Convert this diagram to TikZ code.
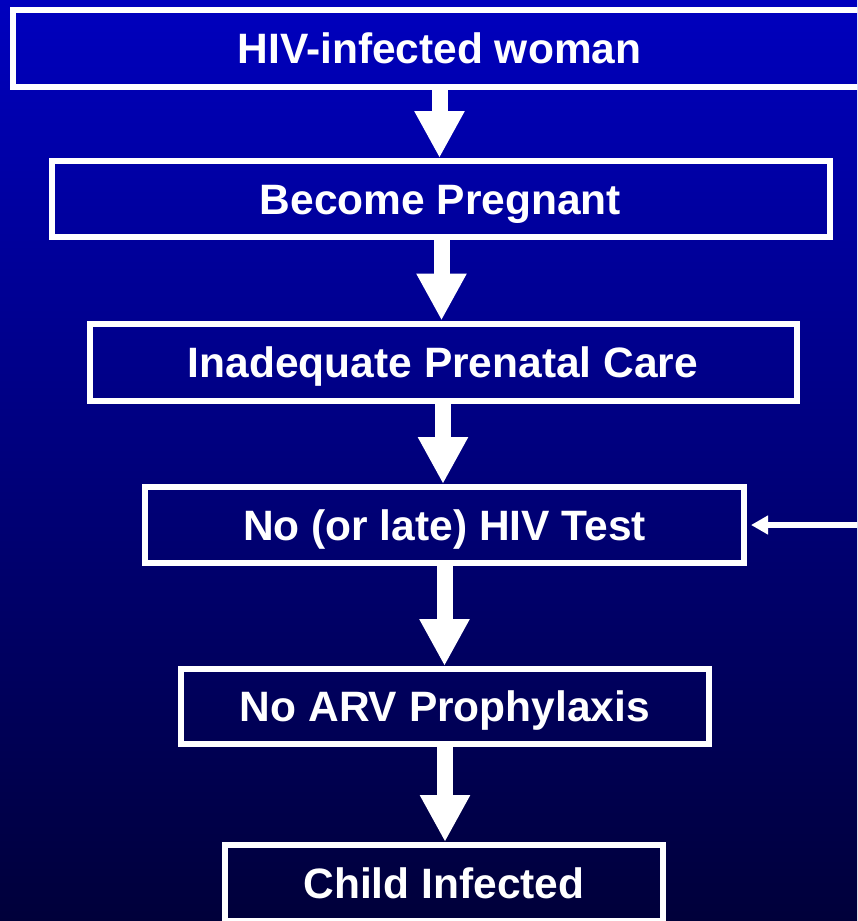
\documentclass[tikz,border=0pt]{standalone}
\usepackage{fontspec}
\setmainfont{Liberation Sans}
\usetikzlibrary{arrows.meta}
\definecolor{bgtop}{RGB}{0,0,190}
\definecolor{bgbot}{RGB}{0,0,58}
\tikzset{
  flowbox/.style={draw=white, line width=6pt, text=white, inner sep=0pt,
    text height=30.5pt, text depth=0pt,
    font=\fontsize{42.5}{50}\selectfont\bfseries},
  bigarrow/.style={draw=white, line width=16pt, -{Triangle[length=47pt,width=47pt]}},
  sidearrow/.style={draw=white, line width=5.5pt, -{Triangle[length=17pt,width=18pt]}}
}
\begin{document}
\begin{tikzpicture}[x=1pt,y=-1pt]
\useasboundingbox (0,0) rectangle (857,921);
\clip (0,0) rectangle (857,921);
\shade[top color=bgtop, bottom color=bgbot] (0,0) rectangle (857,921);
\node[flowbox, minimum width=853pt, minimum height=77pt] (b1) at (439.5,48.5) {HIV-infected woman};
\node[flowbox, minimum width=778pt, minimum height=76pt] (b2) at (440.5,199) {Become Pregnant};
\node[flowbox, minimum width=707pt, minimum height=77pt] (b3) at (443,362) {Inadequate Prenatal Care};
\node[flowbox, minimum width=599pt, minimum height=76pt] (b4) at (444.5,525) {No (or late) HIV Test};
\node[flowbox, minimum width=528pt, minimum height=75pt] (b5) at (445,706.5) {No ARV Prophylaxis};
\node[flowbox, minimum width=438pt, minimum height=76pt] (b6) at (444,883) {Child Infected};
\coordinate (side) at (870,525);
\draw[bigarrow] (b1.south) -- (b1.south |- b2.north);
\draw[bigarrow] ([xshift=1pt]b2.south) -- ([xshift=1pt]b2.south |- b3.north);
\draw[bigarrow] (b3.south) -- (b3.south |- b4.north);
\draw[bigarrow] (b4.south) -- (b4.south |- b5.north);
\draw[bigarrow] (b5.south) -- (b5.south |- b6.north);
\draw[sidearrow] (side) -- ([xshift=4pt]b4.east);
\end{tikzpicture}
\end{document}
